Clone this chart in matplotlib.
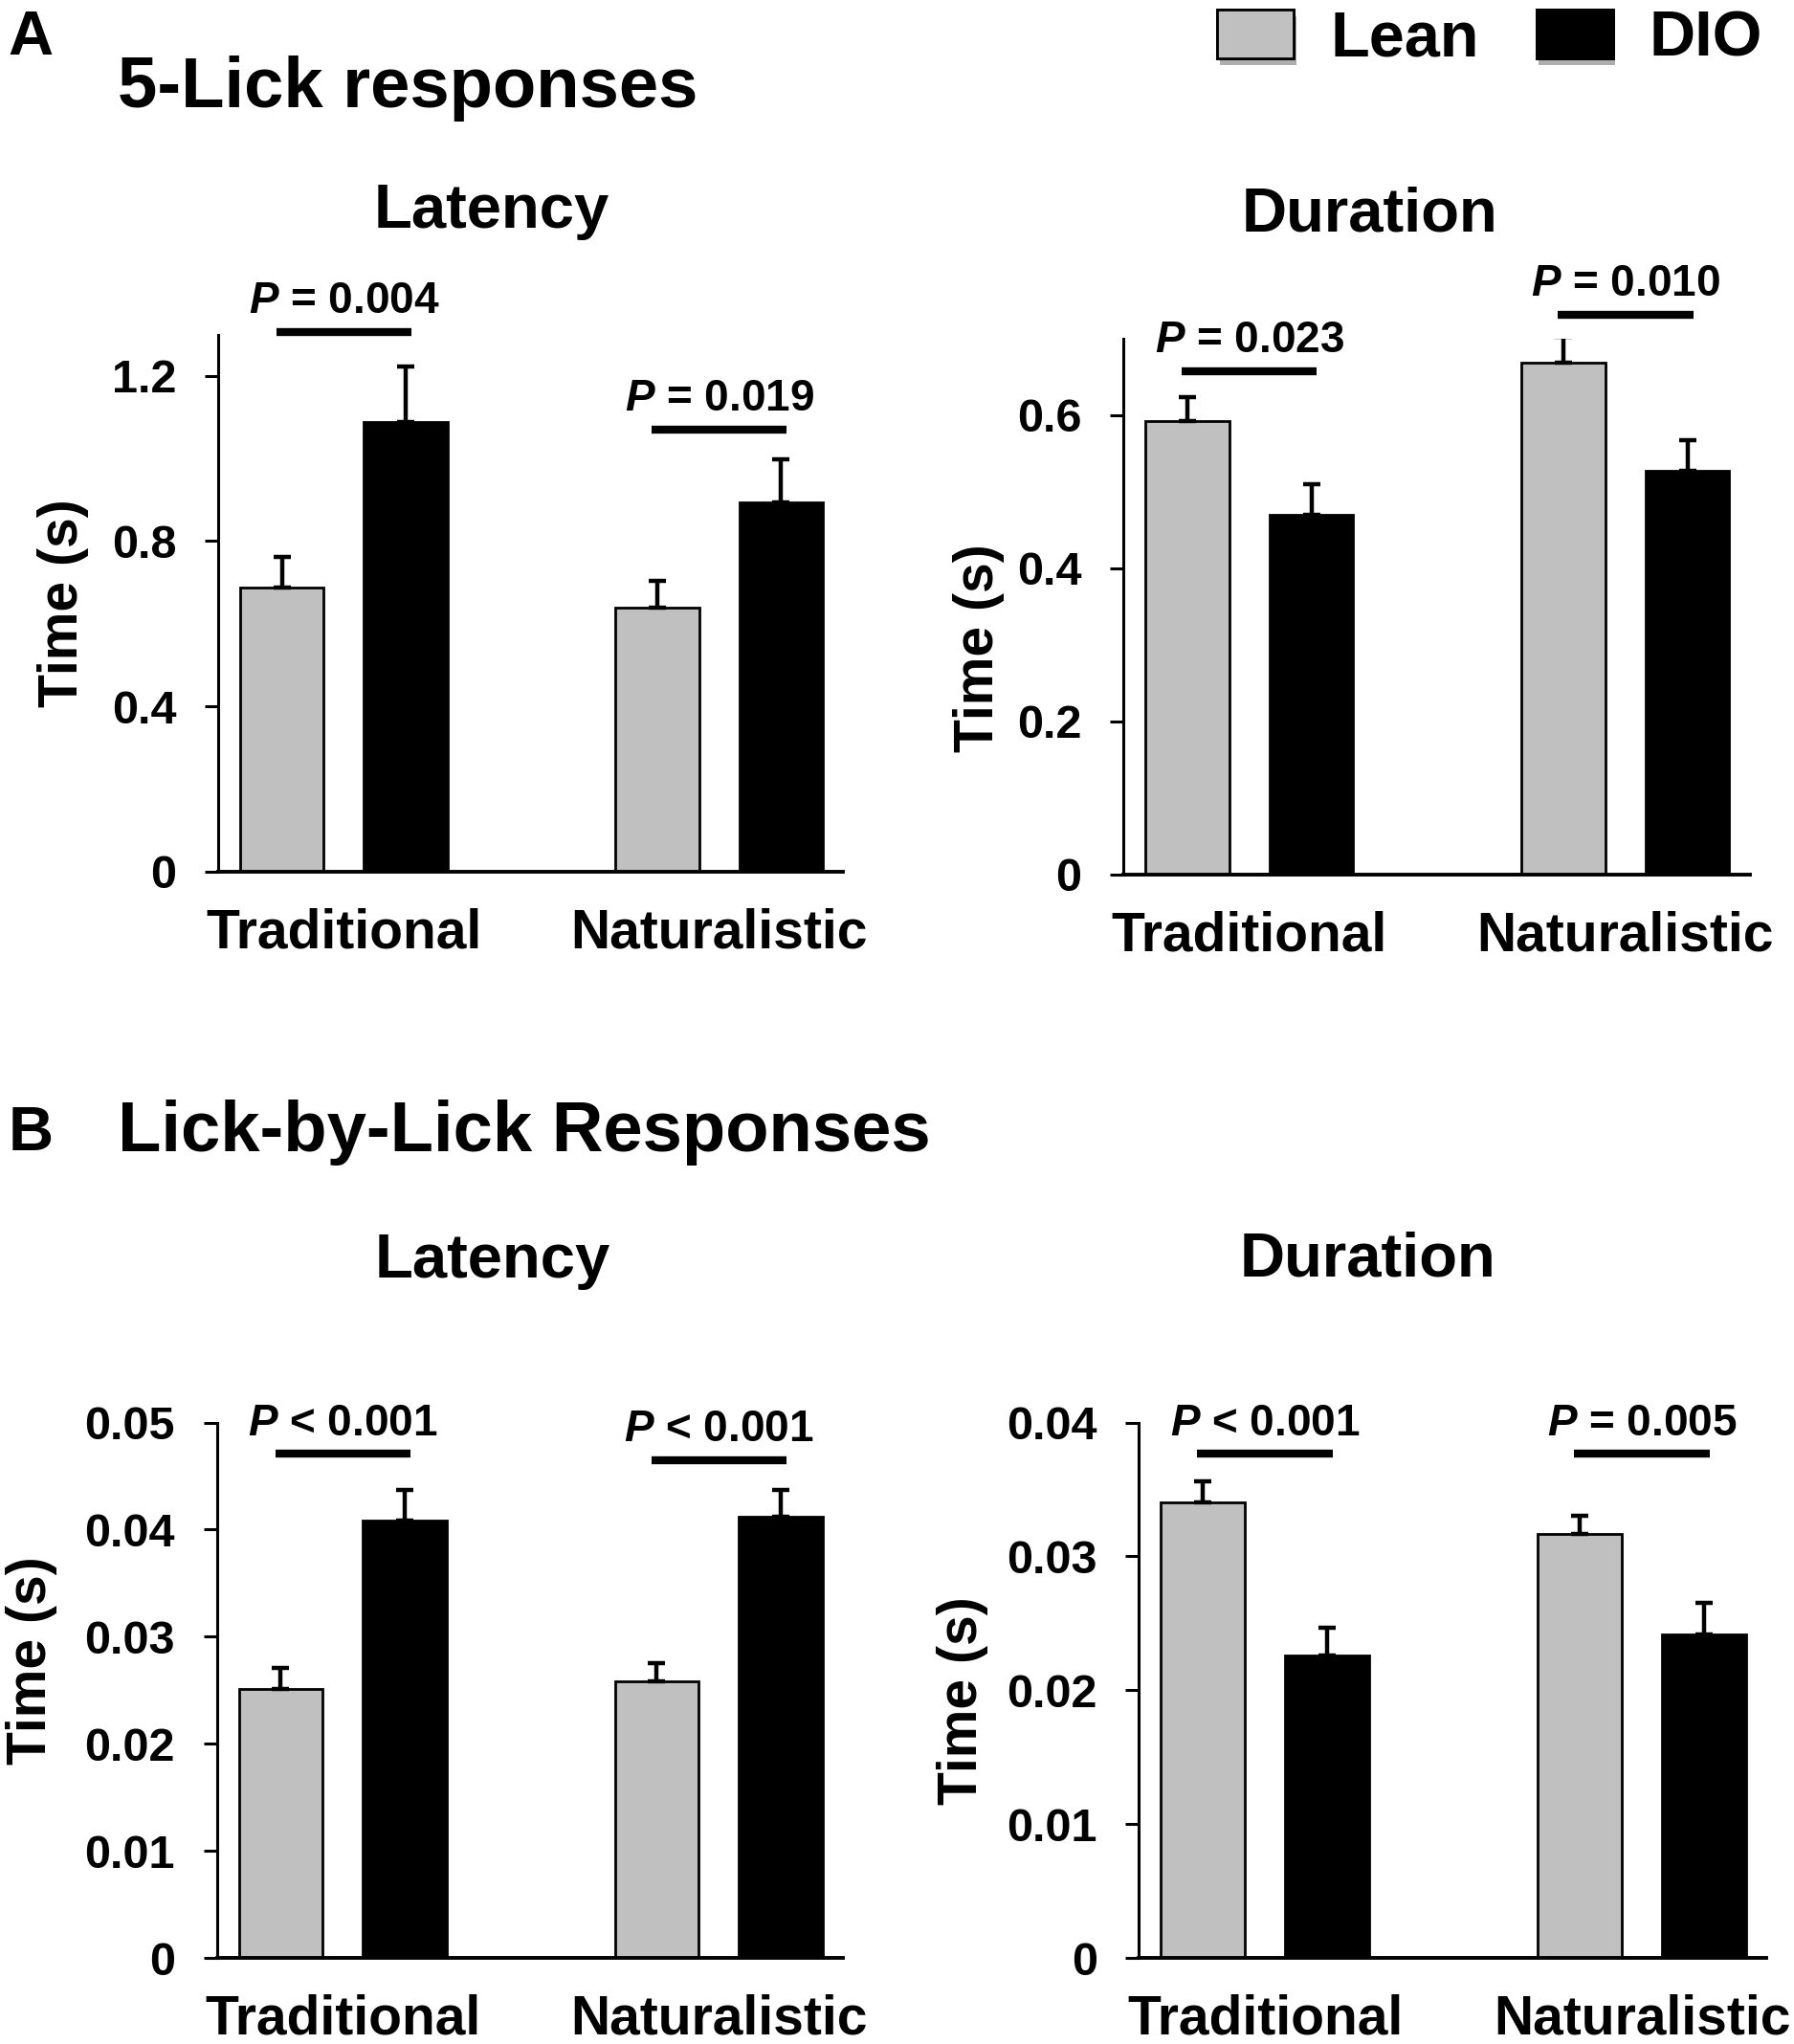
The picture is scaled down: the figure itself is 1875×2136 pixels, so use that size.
import numpy as np
from matplotlib import pyplot as plt
from matplotlib.patches import Patch
import matplotlib.patheffects as pe

plt.rcParams['font.family'] = ['Liberation Sans', 'DejaVu Sans']
plt.rcParams['font.weight'] = 'bold'
plt.rcParams['mathtext.fontset'] = 'custom'
plt.rcParams['mathtext.it'] = 'Liberation Sans:italic:bold'
plt.rcParams['mathtext.rm'] = 'Liberation Sans:bold'

groups = ['Traditional', 'Naturalistic']
series = ['Lean', 'DIO']

# 5-lick responses
lick5_lat_lean = [0.688, 0.639]
lick5_lat_lean_sem = [0.074, 0.064]
lick5_lat_dio = [1.089, 0.894]
lick5_lat_dio_sem = [0.133, 0.104]

lick5_dur_lean = [0.592, 0.669]
lick5_dur_lean_sem = [0.032, 0.034]
lick5_dur_dio = [0.470, 0.528]
lick5_dur_dio_sem = [0.040, 0.040]

# lick-by-lick responses
lbl_lat_lean = [0.0251, 0.0258]
lbl_lat_lean_sem = [0.0020, 0.0017]
lbl_lat_dio = [0.0408, 0.0412]
lbl_lat_dio_sem = [0.0029, 0.0025]

lbl_dur_lean = [0.0340, 0.0317]
lbl_dur_lean_sem = [0.0016, 0.0013]
lbl_dur_dio = [0.0226, 0.0242]
lbl_dur_dio_sem = [0.0021, 0.0023]

# significance labels and bracket heights
p_lick5_lat = ['= 0.004', '= 0.019']
p_lick5_lat_y = [1.306, 1.070]
p_lick5_dur = ['= 0.023', '= 0.010']
p_lick5_dur_y = [0.658, 0.7315]
p_lbl_lat = ['< 0.001', '< 0.001']
p_lbl_lat_y = [0.0471, 0.0465]
p_lbl_dur = ['< 0.001', '= 0.005']
p_lbl_dur_y = [0.03765, 0.03765]

ticks_lick5_lat = [0, 0.4, 0.8, 1.2]
ticklabels_lick5_lat = ['0', '0.4', '0.8', '1.2']
ticks_lick5_dur = [0, 0.2, 0.4, 0.6]
ticklabels_lick5_dur = ['0', '0.2', '0.4', '0.6']
ticks_lbl_lat = [0, 0.01, 0.02, 0.03, 0.04, 0.05]
ticklabels_lbl_lat = ['0', '0.01', '0.02', '0.03', '0.04', '0.05']
ticks_lbl_dur = [0, 0.01, 0.02, 0.03, 0.04]
ticklabels_lbl_dur = ['0', '0.01', '0.02', '0.03', '0.04']

lean_col = '#c0c0c0'
dio_col = 'black'

W, H = 1875, 2136
fig = plt.figure(figsize=(W/100, H/100), dpi=100)

def px_axes(l, r, t, b):
    return fig.add_axes([l/W, 1 - b/H, (r - l)/W, (b - t)/H])

ax1 = px_axes(228, 881, 349.5, 910.7)
ax2 = px_axes(1174, 1828.5, 354, 913.9)
ax3 = px_axes(226.6, 881, 1486.5, 2046)
ax4 = px_axes(1190.4, 1846, 1486.5, 2046)

width = 0.223
off = 0.165
x = np.arange(len(groups))


def panel(ax, lean, lean_sem, dio, dio_sem, ylim, ticks, ticklabels,
          ptexts, pys, label_xy):
    ekw = dict(elinewidth=3.2, capsize=6.5, capthick=3.2, ecolor='black')
    ax.bar(x - off, lean, width, color=lean_col, edgecolor='black', linewidth=2,
           yerr=[np.zeros(len(lean)), lean_sem], error_kw=ekw)
    ax.bar(x + off, dio, width, color=dio_col, edgecolor='black', linewidth=2,
           yerr=[np.zeros(len(dio)), dio_sem], error_kw=ekw)
    ax.set_xlim(-0.335, 1.33)
    ax.set_ylim(ylim)
    ax.set_yticks(ticks)
    ax.set_yticklabels(ticklabels)
    ax.set_xticks(x)
    ax.set_xticklabels(groups)
    for s in ['top', 'right']:
        ax.spines[s].set_visible(False)
    ax.spines['left'].set_linewidth(2.2)
    ax.spines['bottom'].set_linewidth(2.8)
    ax.tick_params(axis='y', direction='out', length=10.4, width=2.2,
                   pad=21, labelsize=35)
    ax.tick_params(axis='x', length=0, pad=27, labelsize=41)
    for lab in ax.get_xticklabels() + ax.get_yticklabels():
        lab.set_fontweight('bold')
    ax.set_ylabel('Time (s)', fontsize=41, fontweight='bold')
    ax.yaxis.set_label_coords(*label_xy)
    for xi, txt, yy in zip(x, ptexts, pys):
        ax.plot([xi - 0.18, xi + 0.18], [yy, yy], color='black', lw=6,
                solid_capstyle='butt', clip_on=False)
        ax.annotate(r'$\mathit{P}$ ' + txt, xy=(xi, yy), xytext=(0, 14),
                    textcoords='offset points', ha='center', va='baseline',
                    fontsize=33, fontweight='bold', annotation_clip=False)


panel(ax1, lick5_lat_lean, lick5_lat_lean_sem, lick5_lat_dio, lick5_lat_dio_sem,
      (0, 1.3), ticks_lick5_lat, ticklabels_lick5_lat,
      p_lick5_lat, p_lick5_lat_y, (-0.206, 0.50))
panel(ax2, lick5_dur_lean, lick5_dur_lean_sem, lick5_dur_dio, lick5_dur_dio_sem,
      (0, 0.7), ticks_lick5_dur, ticklabels_lick5_dur,
      p_lick5_dur, p_lick5_dur_y, (-0.189, 0.422))
panel(ax3, lbl_lat_lean, lbl_lat_lean_sem, lbl_lat_dio, lbl_lat_dio_sem,
      (0, 0.05), ticks_lbl_lat, ticklabels_lbl_lat,
      p_lbl_lat, p_lbl_lat_y, (-0.255, 0.556))
panel(ax4, lbl_dur_lean, lbl_dur_lean_sem, lbl_dur_dio, lbl_dur_dio_sem,
      (0, 0.04), ticks_lbl_dur, ticklabels_lbl_dur,
      p_lbl_dur, p_lbl_dur_y, (-0.240, 0.481))

# panel letters and headings
fig.text(8/W, 1 - 56.7/H, 'A', fontsize=47, fontweight='bold', ha='left', va='baseline')
fig.text(123/W, 1 - 112/H, '5-Lick responses', fontsize=53.5, fontweight='bold',
         ha='left', va='baseline')
fig.text(9/W, 1 - 1202/H, 'B', fontsize=47, fontweight='bold', ha='left', va='baseline')
fig.text(123/W, 1 - 1203/H, 'Lick-by-Lick Responses', fontsize=53.5, fontweight='bold',
         ha='left', va='baseline')

fig.text(514/W, 1 - 238/H, 'Latency', fontsize=47, fontweight='bold', ha='center', va='baseline')
fig.text(1432/W, 1 - 241/H, 'Duration', fontsize=47, fontweight='bold', ha='center', va='baseline')
fig.text(515/W, 1 - 1334.6/H, 'Latency', fontsize=47, fontweight='bold', ha='center', va='baseline')
fig.text(1430/W, 1 - 1334/H, 'Duration', fontsize=47, fontweight='bold', ha='center', va='baseline')

# legend
shadow = [pe.withSimplePatchShadow(offset=(2, -5), shadow_rgbFace='0.3', alpha=0.45), pe.Normal()]
handles = [Patch(facecolor=lean_col, edgecolor='black', linewidth=2, path_effects=shadow),
           Patch(facecolor=dio_col, edgecolor='black', linewidth=2, path_effects=shadow)]
leg = fig.legend(handles, series, loc='upper right', bbox_to_anchor=(1842/W, 1 - 10/H),
                 ncol=2, frameon=False, borderaxespad=0, borderpad=0,
                 handlelength=1.2, handleheight=0.8, handletextpad=0.57,
                 columnspacing=0.9, prop={'size': 48, 'weight': 'bold'})

fig.savefig('out.png', dpi=100)
